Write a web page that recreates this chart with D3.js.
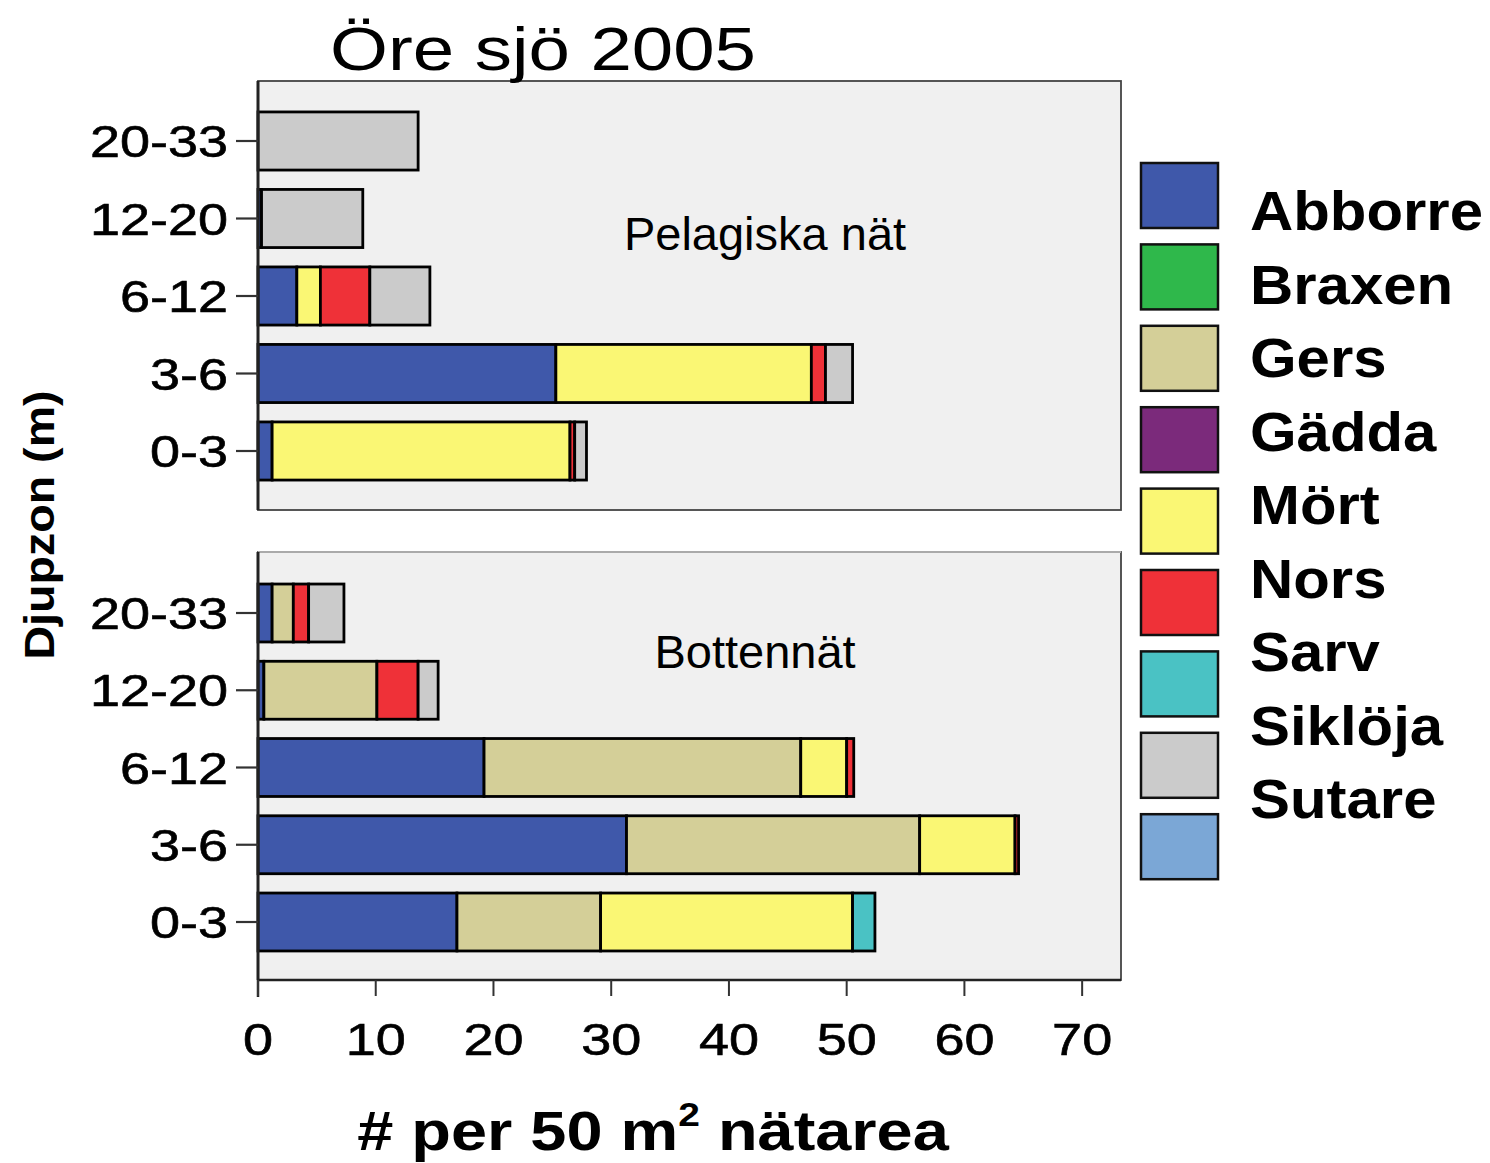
<!DOCTYPE html>
<html><head><meta charset="utf-8">
<script src="https://cdn.jsdelivr.net/npm/d3@7"></script>
<style>body{margin:0;background:#fff}text{font-family:"Liberation Sans",Arial,sans-serif;fill:#000}</style>
</head><body>
<svg id="c" width="1490" height="1163"></svg>
<script>
const species = ["Abborre","Braxen","Gers","Gädda","Mört","Nors","Sarv","Siklöja","Sutare"];
const colors  = ["#3f58aa","#2fb84b","#d4cf98","#7b2a7b","#faf774","#ef3138","#4ac2c4","#cbcbcb","#7ba7d6"];
const depths  = ["0-3","3-6","6-12","12-20","20-33"];
const xTicks  = [0,10,20,30,40,50,60,70];

// Pelagiska nät (values per depth zone, order as depths)
const pelAbborre = [1.2, 25.3, 3.3, 0.3, 0];
const pelBraxen  = [0, 0, 0, 0, 0];
const pelGers    = [0, 0, 0, 0, 0];
const pelGadda   = [0, 0, 0, 0, 0];
const pelMort    = [25.3, 21.7, 2.0, 0, 0];
const pelNors    = [0.4, 1.2, 4.2, 0, 0];
const pelSarv    = [0, 0, 0, 0, 0];
const pelSikloja = [1.0, 2.3, 5.1, 8.6, 13.6];
const pelSutare  = [0, 0, 0, 0, 0];

// Bottennät
const botAbborre = [16.9, 31.3, 19.2, 0.5, 1.2];
const botBraxen  = [0, 0, 0, 0, 0];
const botGers    = [12.2, 24.9, 26.9, 9.6, 1.8];
const botGadda   = [0, 0, 0, 0, 0];
const botMort    = [21.4, 8.1, 3.9, 0, 0];
const botNors    = [0, 0.3, 0.6, 3.5, 1.3];
const botSarv    = [1.9, 0, 0, 0, 0];
const botSikloja = [0, 0, 0, 1.7, 3.0];
const botSutare  = [0, 0, 0, 0, 0];

const pelSeries = [pelAbborre,pelBraxen,pelGers,pelGadda,pelMort,pelNors,pelSarv,pelSikloja,pelSutare];
const botSeries = [botAbborre,botBraxen,botGers,botGadda,botMort,botNors,botSarv,botSikloja,botSutare];

function rows(series){
  return depths.map((d,i)=>{const r={depth:d}; species.forEach((s,j)=>r[s]=series[j][i]); return r;});
}

const svg = d3.select("#c");
svg.append("rect").attr("width",1490).attr("height",1163).attr("fill","#fff");

const L=258, R=1121;
const x = d3.scaleLinear().domain([0,73.3]).range([L,R]);
const color = d3.scaleOrdinal().domain(species).range(colors);

const panels = [
  {series:pelSeries, top:81, bottom:510, y0:141, y1:451, label:"Pelagiska nät", lx:765, ly:250},
  {series:botSeries, top:552, bottom:980, y0:613, y1:922, label:"Bottennät", lx:755, ly:668}
];

panels.forEach((p,pi)=>{
  const g = svg.append("g");
  g.append("rect").attr("x",L).attr("y",p.top).attr("width",R-L).attr("height",p.bottom-p.top)
    .attr("fill","#f0f0f0").attr("stroke","#444").attr("stroke-width",1.8);
  if(pi===1){
    g.append("line").attr("x1",L).attr("x2",R).attr("y1",p.top).attr("y2",p.top).attr("stroke","#aaa").attr("stroke-width",2);
  }
  const y = d3.scalePoint().domain(depths.slice().reverse()).range([p.y0,p.y1]);
  const bh = y.step()*0.75;
  const stacked = d3.stack().keys(species)(rows(p.series));
  g.selectAll("g.s").data(stacked).join("g").attr("fill",d=>color(d.key))
    .selectAll("rect").data(d=>d.filter(v=>v[1]-v[0]>0)).join("rect")
    .attr("x",d=>x(d[0])).attr("width",d=>x(d[1])-x(d[0]))
    .attr("y",d=>y(d.data.depth)-bh/2).attr("height",bh)
    .attr("stroke","#000").attr("stroke-width",2.8);
  g.append("line").attr("x1",L).attr("x2",L).attr("y1",p.top).attr("y2",p.bottom).attr("stroke","#222").attr("stroke-width",3);
  depths.forEach(d=>{
    g.append("line").attr("x1",236).attr("x2",L).attr("y1",y(d)).attr("y2",y(d)).attr("stroke","#333").attr("stroke-width",2.2);
    g.append("text").attr("transform",`translate(228,${y(d)+16}) scale(1.2,1)`).attr("text-anchor","end")
      .attr("font-size",45).attr("stroke","#000").attr("stroke-width",0.6).text(d);
  });
  g.append("text").attr("x",p.lx).attr("y",p.ly).attr("text-anchor","middle").attr("font-size",47).text(p.label);
});

// x axis
const xa = svg.append("g");
xa.append("line").attr("x1",L).attr("x2",R).attr("y1",980).attr("y2",980).attr("stroke","#222").attr("stroke-width",2.5);
xa.append("line").attr("x1",L).attr("x2",L).attr("y1",980).attr("y2",997).attr("stroke","#222").attr("stroke-width",2.5);
xTicks.forEach(t=>{
  xa.append("line").attr("x1",x(t)).attr("x2",x(t)).attr("y1",980).attr("y2",996).attr("stroke","#333").attr("stroke-width",2);
  xa.append("text").attr("transform",`translate(${x(t)},1055) scale(1.2,1)`).attr("text-anchor","middle")
    .attr("font-size",45).attr("stroke","#000").attr("stroke-width",0.6).text(t);
});

// title
svg.append("text").attr("transform","translate(543,70) scale(1.2,1)").attr("text-anchor","middle")
  .attr("font-size",62).text("Öre sjö 2005");

// x axis title
const xt = svg.append("text").attr("transform","translate(653,1150) scale(1.18,1)").attr("text-anchor","middle")
  .attr("font-size",55).attr("font-weight","bold");
xt.append("tspan").text("# per 50 m");
xt.append("tspan").attr("font-size",33).attr("dy",-24).text("2");
xt.append("tspan").attr("dy",24).text(" nätarea");

// y axis title
svg.append("text").attr("transform","translate(54,525) rotate(-90) scale(1.11,1)").attr("text-anchor","middle")
  .attr("font-size",42).attr("font-weight","bold").text("Djupzon (m)");

// legend
const lg = svg.append("g");
species.forEach((s,i)=>{
  lg.append("rect").attr("x",1141).attr("y",163+i*81.4).attr("width",77).attr("height",65)
    .attr("fill",color(s)).attr("stroke","#111").attr("stroke-width",2.5);
  lg.append("text").attr("transform",`translate(1250,${230+i*73.5}) scale(1.07,1)`)
    .attr("font-size",56).attr("font-weight","bold").text(s);
});
</script>
</body></html>
